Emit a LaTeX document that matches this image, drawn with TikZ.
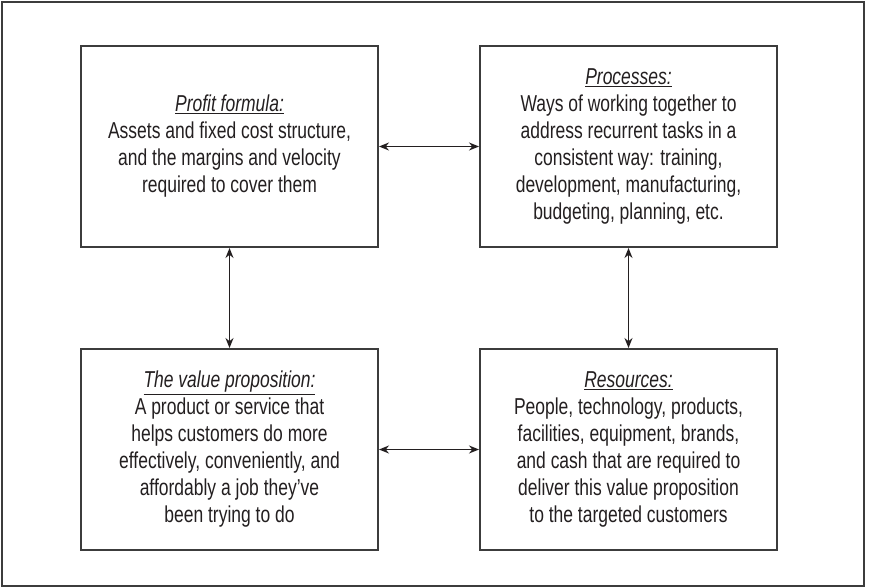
\documentclass[tikz,border=0pt]{standalone}
\usepackage{fontspec}
\setmainfont{Liberation Sans}[FakeStretch=0.76]
\usetikzlibrary{arrows.meta,positioning}
\definecolor{ink}{HTML}{231F20}
\definecolor{rule}{HTML}{3C3C3C}
\tikzset{
  link/.style={{Stealth[length=10pt,width=8pt]}-{Stealth[length=10pt,width=8pt]},draw=ink,line width=1.4pt},
  part/.style={draw=rule,line width=2pt,fill=white,minimum width=297pt,
    minimum height=201pt,inner sep=0pt,align=center,
    font=\fontsize{23}{27}\selectfont,text=ink},
  frame/.style={draw=rule,line width=2pt},
}
\newcommand{\parthead}[1]{\underline{\textit{#1}}}

\begin{document}
\begin{tikzpicture}[x=1pt,y=-1pt]
\useasboundingbox (0,0) rectangle (869,588);
\draw[frame] (2,2) rectangle (864,586);
\node[part] (profit) at (229.5,146.5) {\parthead{Profit formula:}\\Assets and fixed cost structure,\\and the margins and velocity\\required to cover them};
\node[part] (processes) at (628.5,146.5) {\parthead{Processes:}\\Ways of working together to\\address recurrent tasks in a\\consistent way: training,\\development, manufacturing,\\budgeting, planning, etc.};
\node[part] (value) at (229.5,449.5) {\parthead{The value proposition:}\\A product or service that\\helps customers do more\\effectively, conveniently, and\\affordably a job they’ve\\been trying to do};
\node[part] (resources) at (628.5,449.5) {\parthead{Resources:}\\People, technology, products,\\facilities, equipment, brands,\\and cash that are required to\\deliver this value proposition\\to the targeted customers};
\draw[link] (profit) -- (processes);
\draw[link] (value) -- (resources);
\draw[link] (profit) -- (value);
\draw[link] (processes) -- (resources);
\end{tikzpicture}
\end{document}
